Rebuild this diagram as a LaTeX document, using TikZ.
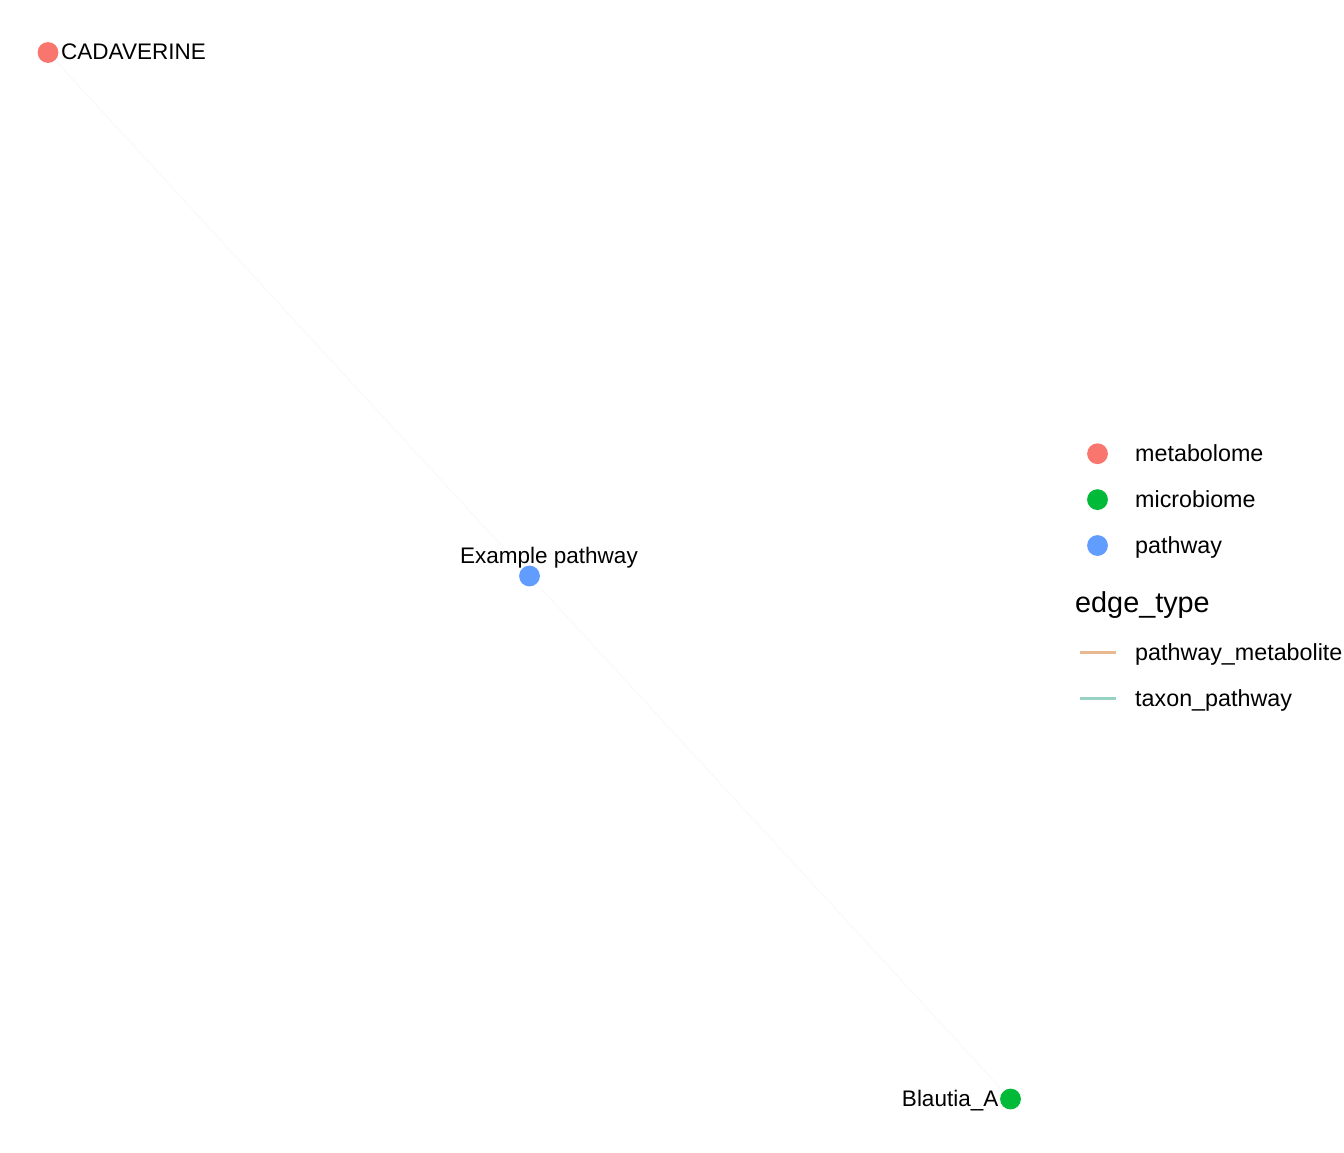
\documentclass[tikz,border=0pt]{standalone}
\usepackage{fontspec}
\setmainfont{Liberation Sans}
\definecolor{metab}{HTML}{F8766D}
\definecolor{micro}{HTML}{00BA38}
\definecolor{pathw}{HTML}{619CFF}
\definecolor{pmedge}{RGB}{232,184,145}
\definecolor{tpedge}{RGB}{152,210,196}
\definecolor{faint}{RGB}{250,250,250}
\begin{document}
\begin{tikzpicture}[x=1pt,y=-1pt,
  dot/.style={circle,inner sep=0pt,minimum size=20.8pt,draw=none},
  lbl/.style={inner sep=0pt,font=\fontsize{22.5}{26}\selectfont},
  legtxt/.style={inner sep=0pt,anchor=base west,font=\fontsize{23.3}{27}\selectfont},
  legtitle/.style={inner sep=0pt,anchor=base west,font=\fontsize{28.8}{33}\selectfont},
  legline/.style={line width=2.4pt},
  edgeline/.style={draw=faint,line width=1.2pt}]
\useasboundingbox (0,0) rectangle (1344,1152);
\fill[white] (0,0) rectangle (1344,1152);
% nodes
\node[dot,fill=metab] (cad) at (48,52.5) {};
\node[dot,fill=pathw] (pw) at (529.5,576) {};
\node[dot,fill=micro] (bla) at (1010.5,1099) {};
% edges
\draw[edgeline] (cad) -- (pw);
\draw[edgeline] (pw) -- (bla);
% labels
\node[lbl,anchor=base west] (cadl) at (61,59.7) {CADAVERINE};
\node[lbl,anchor=base west] (pwl) at (460,563.3) {Example pathway};
\node[lbl,anchor=base east] (blal) at (998.5,1106.7) {Blautia\_A};
% legend
\node[dot,fill=metab] (lm) at (1097.5,453.7) {};
\node[dot,fill=micro] (lmi) at (1097.5,499.6) {};
\node[dot,fill=pathw] (lp) at (1097.5,545.5) {};
\node[legtxt] (lmt) at (1135,461.6) {metabolome};
\node[legtxt] (lmit) at (1135,507.5) {microbiome};
\node[legtxt] (lpt) at (1135,553.4) {pathway};
\node[legtitle] (let) at (1075,612.5) {edge\_type};
\coordinate (pm1) at (1079.5,652.3);
\coordinate (pm2) at (1116,652.3);
\coordinate (tp1) at (1079.5,698.3);
\coordinate (tp2) at (1116,698.3);
\draw[legline,draw=pmedge] (pm1) -- (pm2);
\draw[legline,draw=tpedge] (tp1) -- (tp2);
\node[legtxt] (pmt) at (1135,660.3) {pathway\_metabolite};
\node[legtxt] (tpt) at (1135,706.3) {taxon\_pathway};
\end{tikzpicture}
\end{document}
